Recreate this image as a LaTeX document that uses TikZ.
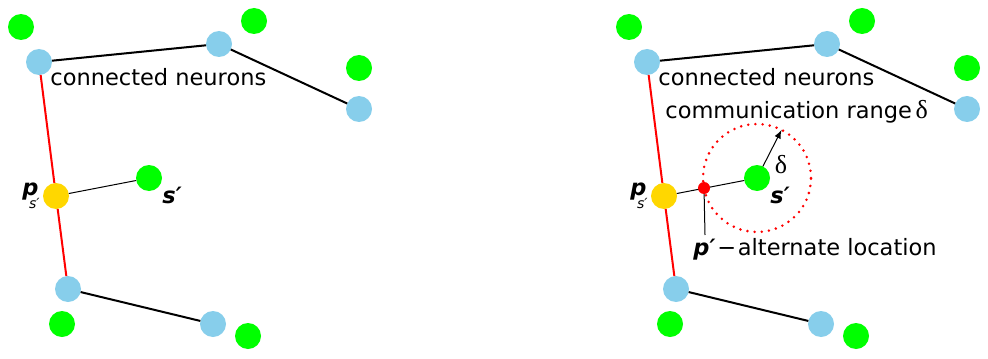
\documentclass[tikz,border=0pt]{standalone}
\usepackage{fontspec}
\setmainfont{DejaVu Sans}
\newfontfamily\greekserif{Liberation Serif}
\usepackage{tikz}
\definecolor{neuronblue}{HTML}{87CEEB}
\definecolor{signalgreen}{HTML}{00FF00}
\definecolor{pointgold}{HTML}{FFD700}
\newcommand*\dotdiam{13pt}
\newcommand*\plabeltext{{\bfseries\itshape p}\kern-0.42em\raisebox{-0.62em}{\scriptsize\itshape s′}}
\newcommand*\slabeltext{{\bfseries\itshape s′}}
\newcommand*\deltatext{{\greekserif\fontsize{13}{15}\selectfont δ}}
\tikzset{
    cell/.style      = {circle, inner sep=0pt, outer sep=0pt, minimum size=\dotdiam},
    bluecell/.style  = {cell, fill=neuronblue},
    greencell/.style = {cell, fill=signalgreen},
    goldcell/.style  = {cell, fill=pointgold},
    redcell/.style   = {cell, fill=red, minimum size=6pt},
    link/.style      = {line width=1pt},
    redlink/.style   = {line width=1pt, red},
    thinlink/.style  = {line width=0.5pt},
    plaintext/.style = {anchor=base west, inner sep=0pt},
    rangecircle/.style = {circle, draw=red, inner sep=0pt, outer sep=0pt,
                    minimum size=54pt, line width=1.4pt, line cap=round,
                    dash pattern=on 0pt off 3.6pt},
  }

\begin{document}
\begin{tikzpicture}[x=0.5pt, y=-0.5pt, font=\fontsize{11.25}{13.5}\selectfont]
    \useasboundingbox (0,0) rectangle (988,358);

    % Both panels: same neurons, right one shifted by 608
    \foreach \p/\dx in {L/0, R/608} {
        \begin{scope}[xshift=\dx*0.5pt]
        % neurons
        \node[bluecell]  (\p-b1) at (39,62)   {};
        \node[bluecell]  (\p-b2) at (219,44)  {};
        \node[bluecell]  (\p-b3) at (359,109) {};
        \node[bluecell]  (\p-b4) at (68,289)  {};
        \node[bluecell]  (\p-b5) at (213,324) {};
        \node[goldcell]  (\p-y)  at (56,196)  {};
        % green points
        \node[greencell] (\p-g1) at (21,27)   {};
        \node[greencell] (\p-g2) at (254,21)  {};
        \node[greencell] (\p-g3) at (359,68)  {};
        \node[greencell] (\p-g4) at (62,324)  {};
        \node[greencell] (\p-g5) at (248,336) {};
        \node[greencell] (\p-s)  at (149,178) {};

        % connections
        \draw[link]     (\p-b1) -- (\p-b2) -- (\p-b3);
        \draw[link]     (\p-b4) -- (\p-b5);
        \draw[redlink]  (\p-b1) -- (\p-y) -- (\p-b4);
        \draw[thinlink] (\p-y) -- (\p-s);

        % labels
        \node[plaintext] (\p-neurontext) at (50,85)   {connected neurons};
        \node[plaintext] (\p-plabel)     at (22,195)  {\plabeltext};
        \node[plaintext] (\p-slabel)     at (162,203) {\slabeltext};
        \end{scope}
    }

    % Right panel only: range of s' and the alternate location
    \node[rangecircle] (R-range) at (R-s) {};
    \draw[thinlink, -latex] (R-s.63) -- (R-range.63);
    \node[inner sep=0pt] (R-delta) at (781,165) {\deltatext};
    \node[redcell] (R-alt) at (704,188) {};
    \coordinate (R-altfoot) at (705,235);
    \draw[thinlink] (R-alt) -- (R-altfoot);
    \node[plaintext] (R-rangetext) at (665,119) {communication range\,\deltatext};
    \node[plaintext] (R-alttext)   at (693,255) {{\bfseries\itshape p′}\kern0.08em−\kern0.08em alternate location};
\end{tikzpicture}
\end{document}
